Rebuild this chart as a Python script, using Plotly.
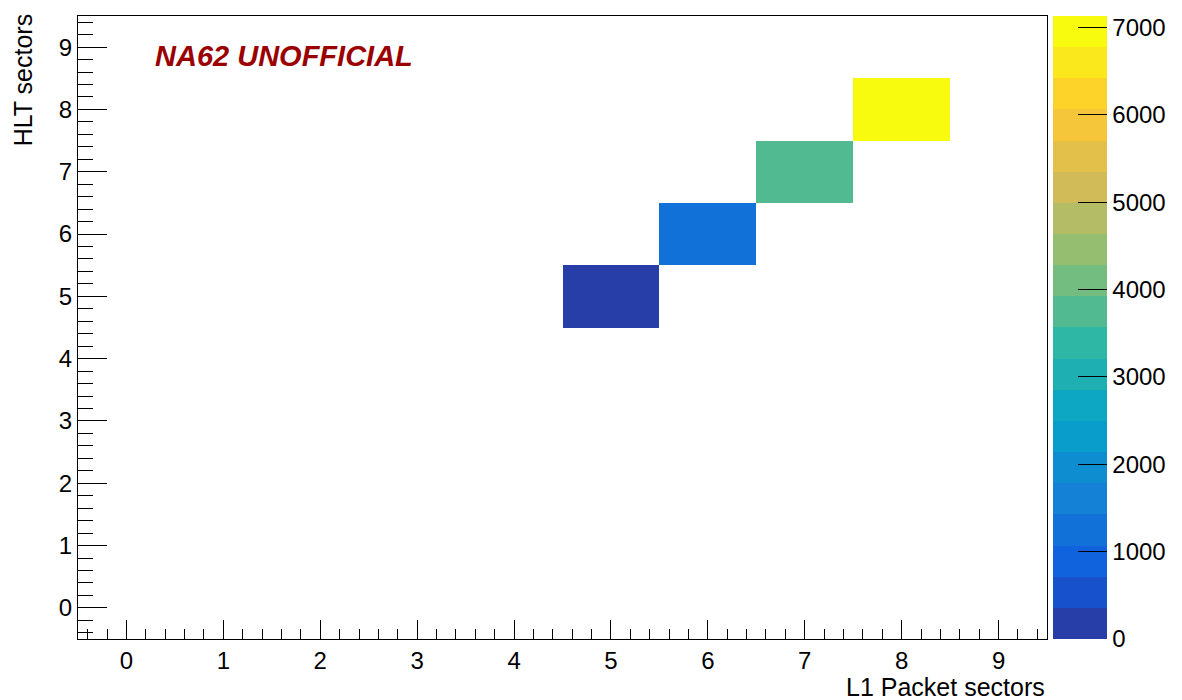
import numpy as np
import plotly.graph_objects as go

# Sector correlation: L1 packet sector vs HLT sector
l1_sectors = [5, 6, 7, 8]
hlt_sectors = [5, 6, 7, 8]
counts = [200, 1250, 3750, 7130]

x_bins = list(range(10))
y_bins = list(range(10))
z_max = 7130
n_contours = 20

# Fill the 10x10 grid; empty bins stay blank
z = [[None for _ in x_bins] for _ in y_bins]
for xs, ys, c in zip(l1_sectors, hlt_sectors, counts):
    z[ys][xs] = c

# ROOT kBird palette, sampled into 20 discrete contour bands
stops = [0.0, 0.125, 0.25, 0.375, 0.5, 0.625, 0.75, 0.875, 1.0]
red = [0.2082, 0.0592, 0.0780, 0.0232, 0.1802, 0.5301, 0.8186, 0.9956, 0.9764]
green = [0.1664, 0.3599, 0.5041, 0.6419, 0.7178, 0.7492, 0.7328, 0.7862, 0.9832]
blue = [0.5293, 0.8684, 0.8385, 0.7914, 0.6425, 0.4662, 0.3499, 0.1968, 0.0539]


def bird(t):
    r = np.interp(t, stops, red)
    g = np.interp(t, stops, green)
    b = np.interp(t, stops, blue)
    return "rgb(%d,%d,%d)" % (round(r * 255), round(g * 255), round(b * 255))


colorscale = []
for i in range(n_contours):
    idx = int((i + 0.99) * 255 / n_contours)
    col = bird(min(idx, 254) / 254)
    colorscale.append([i / n_contours, col])
    colorscale.append([(i + 1) / n_contours, col])

font_family = "Liberation Sans, Arial, Helvetica, sans-serif"
label_size = 24
title_size = 25

fig = go.Figure(
    go.Heatmap(
        x=x_bins,
        y=y_bins,
        z=z,
        zmin=0,
        zmax=z_max,
        colorscale=colorscale,
        hoverongaps=False,
        colorbar=dict(
            x=1.0058,
            xanchor="left",
            y=0,
            yanchor="bottom",
            len=1,
            lenmode="fraction",
            thickness=54,
            thicknessmode="pixels",
            outlinewidth=0,
            tickmode="array",
            tickvals=[0, 1000, 2000, 3000, 4000, 5000, 6000, 7000],
            ticks="inside",
            ticklen=29,
            tickwidth=1,
            tickcolor="black",
            tickfont=dict(family=font_family, size=label_size, color="black"),
            xpad=0,
            ypad=0,
        ),
    )
)

axis_common = dict(
    showgrid=False,
    zeroline=False,
    showline=True,
    linecolor="black",
    linewidth=1,
    mirror=True,
    ticks="inside",
    tickcolor="black",
    tickwidth=1,
    tickmode="linear",
    tick0=0,
    dtick=1,
    tickfont=dict(family=font_family, size=label_size, color="black"),
)

fig.update_xaxes(
    range=[-0.5, 9.5],
    ticklen=19,
    minor=dict(ticks="inside", ticklen=10, dtick=0.2, tick0=0, tickcolor="black", tickwidth=1, showgrid=False),
    ticklabelstandoff=0,
    **axis_common,
)
fig.update_yaxes(
    range=[-0.5, 9.5],
    ticklen=29,
    minor=dict(ticks="inside", ticklen=15, dtick=0.2, tick0=0, tickcolor="black", tickwidth=1, showgrid=False),
    ticklabelstandoff=0,
    **axis_common,
)

fig.update_layout(
    width=1182,
    height=700,
    margin=dict(l=78, r=135, t=16, b=61, autoexpand=False),
    paper_bgcolor="white",
    plot_bgcolor="white",
    font=dict(family=font_family, color="black"),
    annotations=[
        dict(
            text="<b><i>NA62 UNOFFICIAL</i></b>",
            xref="paper",
            yref="paper",
            x=0.0773,
            y=0.936,
            xanchor="left",
            yanchor="middle",
            showarrow=False,
            font=dict(family=font_family, size=29, color="#9b0000"),
        ),
        dict(
            text="L1 Packet sectors",
            xref="paper",
            yref="paper",
            x=1.0,
            y=-0.077,
            xanchor="right",
            yanchor="middle",
            showarrow=False,
            font=dict(family=font_family, size=title_size, color="black"),
        ),
        dict(
            text="HLT sectors",
            xref="paper",
            yref="paper",
            x=-0.0567,
            y=1.006,
            xanchor="center",
            yanchor="top",
            textangle=-90,
            showarrow=False,
            font=dict(family=font_family, size=title_size, color="black"),
        ),
    ],
)

fig.write_html("out.html")
